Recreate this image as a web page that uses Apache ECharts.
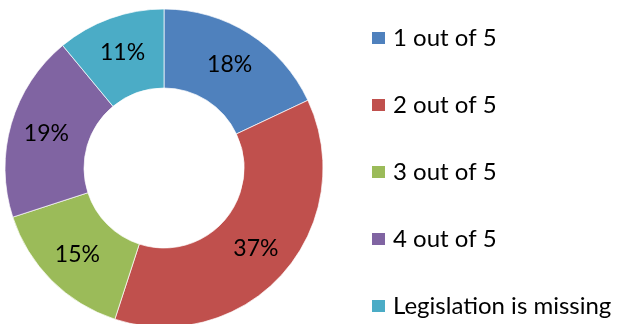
<!DOCTYPE html>
<html>
<head>
<meta charset="utf-8">
<style>
  html, body { margin: 0; padding: 0; background: #fff; }
  #chart { width: 617px; height: 324px; }
</style>
<script src="https://cdn.jsdelivr.net/npm/echarts@6/dist/echarts.min.js"></script>
</head>
<body>
<div id="chart"></div>
<script>
// Share of ratings, in percent
const categories = ['1 out of 5', '2 out of 5', '3 out of 5', '4 out of 5', 'Legislation is missing'];
const shares = [18, 37, 15, 19, 11];
const colors = ['#4F81BD', '#C0504D', '#9BBB59', '#8064A2', '#4BACC6'];

const chart = echarts.init(document.getElementById('chart'));
const font = 'Lato, "Open Sans", sans-serif';

chart.setOption({
  animation: false,
  color: colors,
  legend: {
    orient: 'vertical',
    left: 365,
    top: 21,
    height: 320,
    itemWidth: 15,
    itemHeight: 14,
    itemGap: 43,
    icon: 'rect',
    textStyle: { fontFamily: font, fontSize: 24, color: '#000', padding: [0, 0, 0, 2] },
    data: categories
  },
  series: [{
    type: 'pie',
    center: [164, 168],
    radius: [80, 159],
    startAngle: 90,
    clockwise: true,
    avoidLabelOverlap: false,
    itemStyle: { borderColor: '#fff', borderWidth: 0.7 },
    label: {
      show: true,
      position: 'inside',
      formatter: '{c}%',
      fontFamily: font,
      fontSize: 23,
      color: '#000'
    },
    labelLine: { show: false },
    data: categories.map((name, i) => ({ name, value: shares[i] }))
  }]
});
</script>
</body>
</html>
